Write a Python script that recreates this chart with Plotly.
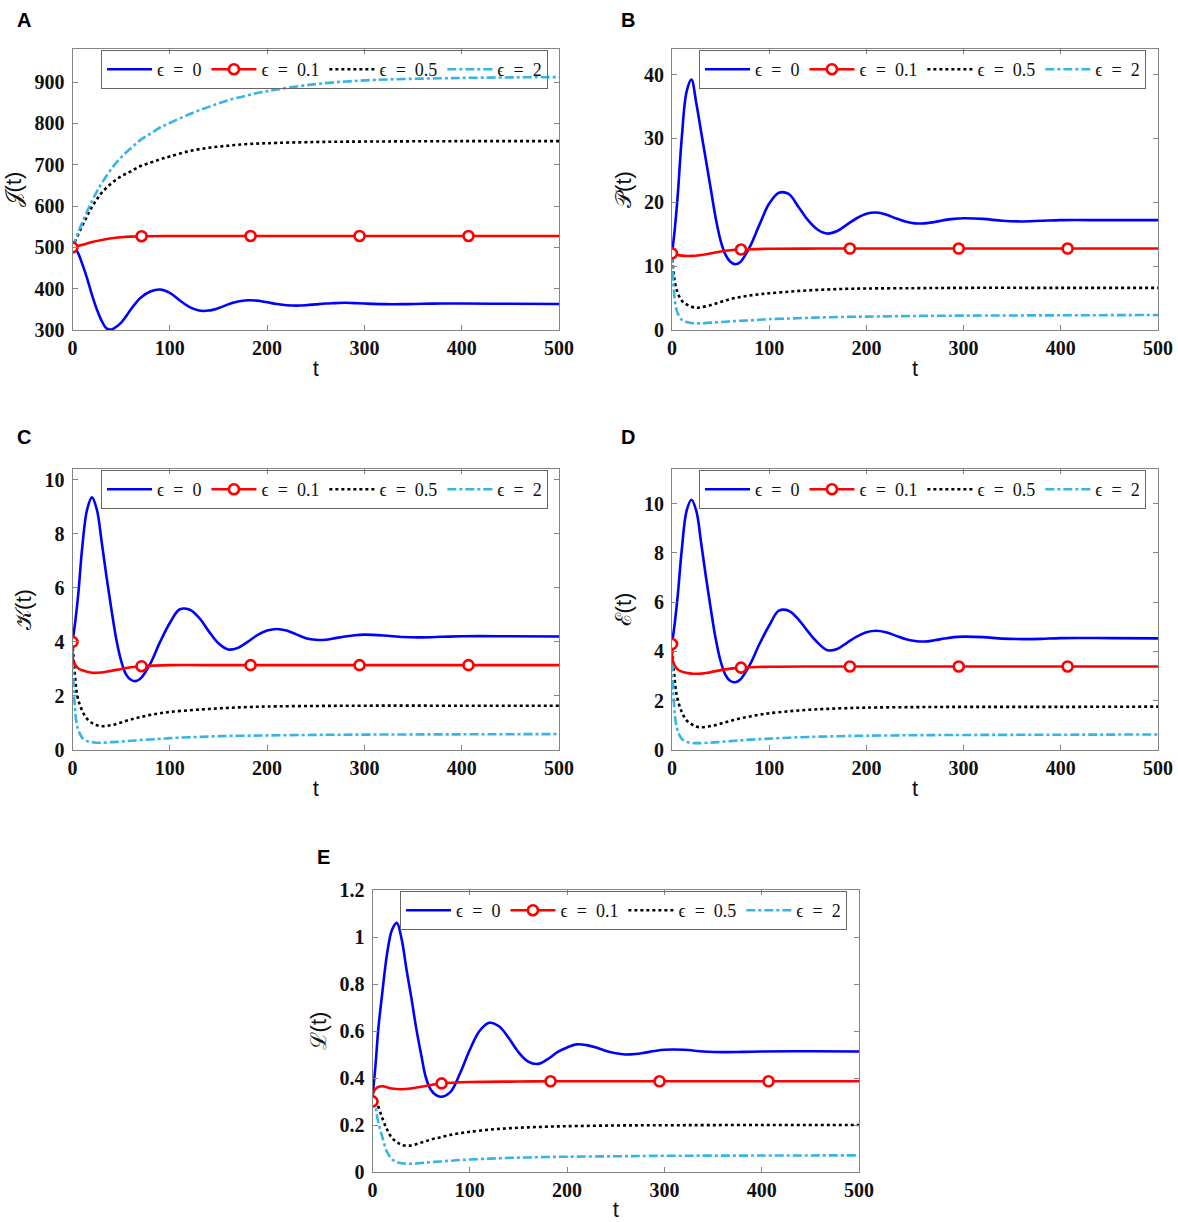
import plotly.graph_objects as go

# time grids
T_OSC = [0, 3, 6, 10, 15, 20, 25, 30, 35, 40, 45, 50, 55, 60, 65, 70,
         80, 90, 100, 110, 120, 130, 140, 150, 160, 170, 180, 190, 200, 210,
         220, 230, 240, 250, 260, 270, 280, 290, 300, 320, 340, 360, 380, 400,
         450, 500]
T_RED = [0, 1, 5, 10, 20, 30, 40, 50, 60, 71, 100, 150, 183, 250, 295, 350,
         407, 450, 500]
T_SMOOTH = [0, 2, 5, 10, 15, 20, 25, 30, 40, 50, 60, 70, 80, 90, 100, 120,
            140, 160, 180, 200, 250, 300, 400, 500]
RED_MARK_T = [0, 71, 183, 295, 407]
X_TICKS = [0, 100, 200, 300, 400, 500]

EPS_LABELS = ["ϵ\u2002=\u20020", "ϵ\u2002=\u20020.1", "ϵ\u2002=\u20020.5",
              "ϵ\u2002=\u20022"]

# panel A : J(t)
J_EPS0 = [500, 496, 485, 460, 425, 385, 350, 322, 304, 301, 308, 318, 333, 350,
          365, 378, 393, 398, 390, 372, 356, 347, 347, 353, 362, 369, 372, 371,
          367, 363, 360, 359, 360, 362, 364, 365, 366, 365, 364, 362.5, 362.5,
          363.5, 364, 364, 363.5, 363]
J_EPS01 = [500, 500.6, 503, 506, 513, 518, 522, 524.5, 526, 527, 527.5, 527.5,
           527.5, 527.5, 527.5, 527.5, 527.5, 527.5, 527.5]
J_EPS05 = [500, 511, 527, 552, 576, 598, 616, 632, 655, 672, 684, 697, 705, 713,
           720, 733, 741, 746, 750, 752, 755, 756, 757, 757]
J_EPS2 = [500, 513, 531, 560, 587, 612, 635, 655, 690, 718, 740, 760, 775, 790,
          801, 822, 840, 856, 868, 878, 895, 904, 910, 912]

# panel B : P(t)
P_EPS0 = [12, 16, 21.3, 30, 37.3, 39.2, 35.5, 31, 26.5, 22, 17.5, 14, 11.8, 10.7,
          10.3, 10.6, 13, 16.5, 19.8, 21.5, 21.3, 19.3, 17.2, 15.7, 15.1, 15.5,
          16.5, 17.5, 18.2, 18.4, 18.1, 17.5, 17.0, 16.7, 16.7, 16.9, 17.2, 17.4,
          17.5, 17.4, 17.1, 17.0, 17.1, 17.2, 17.2, 17.2]
P_EPS01 = [12, 11.95, 11.8, 11.65, 11.6, 11.75, 12.0, 12.3, 12.5, 12.6, 12.72,
           12.75, 12.75, 12.75, 12.75, 12.75, 12.75, 12.75, 12.75]
P_EPS05 = [12, 8.5, 6.2, 4.6, 4.0, 3.65, 3.5, 3.55, 3.9, 4.4, 4.85, 5.15, 5.4, 5.6,
           5.75, 6.0, 6.2, 6.35, 6.45, 6.5, 6.55, 6.6, 6.6, 6.6]
P_EPS2 = [12, 6, 3, 1.6, 1.25, 1.1, 1.05, 1.05, 1.15, 1.25, 1.35, 1.45, 1.5, 1.6,
          1.7, 1.8, 1.9, 2.0, 2.05, 2.1, 2.2, 2.25, 2.3, 2.35]

# panel C : K(t)
K_EPS0 = [4.0, 4.8, 5.8, 7.5, 8.9, 9.35, 8.9, 7.7, 6.4, 5.2, 4.1, 3.3, 2.8, 2.6,
          2.55, 2.65, 3.2, 4.0, 4.7, 5.2, 5.2, 4.9, 4.4, 3.95, 3.72, 3.78, 4.0,
          4.25, 4.42, 4.48, 4.42, 4.28, 4.14, 4.08, 4.08, 4.14, 4.2, 4.25, 4.27,
          4.24, 4.18, 4.17, 4.19, 4.21, 4.21, 4.2]
K_EPS01 = [4.0, 3.3, 3.05, 2.95, 2.86, 2.87, 2.93, 3.0, 3.06, 3.1, 3.14, 3.14,
           3.14, 3.14, 3.14, 3.14, 3.14, 3.14, 3.14]
K_EPS05 = [4.0, 3.0, 2.0, 1.45, 1.15, 1.0, 0.92, 0.88, 0.92, 1.02, 1.13, 1.22,
           1.3, 1.36, 1.41, 1.47, 1.52, 1.56, 1.59, 1.61, 1.63, 1.64, 1.64, 1.64]
K_EPS2 = [4.0, 1.8, 0.85, 0.45, 0.33, 0.29, 0.27, 0.27, 0.29, 0.31, 0.34, 0.37,
          0.39, 0.41, 0.44, 0.47, 0.5, 0.52, 0.53, 0.54, 0.56, 0.57, 0.58, 0.59]

# panel D : E(t)
E_EPS0 = [4.3, 5.2, 6.3, 8.1, 9.7, 10.15, 9.7, 8.4, 7.0, 5.7, 4.5, 3.6, 3.05, 2.8,
          2.75, 2.85, 3.45, 4.3, 5.05, 5.65, 5.65, 5.3, 4.8, 4.35, 4.05, 4.1,
          4.35, 4.6, 4.78, 4.84, 4.78, 4.64, 4.5, 4.42, 4.4, 4.45, 4.52, 4.58,
          4.6, 4.58, 4.52, 4.5, 4.51, 4.54, 4.54, 4.53]
E_EPS01 = [4.3, 3.6, 3.3, 3.18, 3.1, 3.1, 3.16, 3.24, 3.3, 3.34, 3.38, 3.39,
           3.39, 3.39, 3.39, 3.39, 3.39, 3.39, 3.39]
E_EPS05 = [4.3, 3.2, 2.2, 1.55, 1.2, 1.05, 0.95, 0.92, 0.97, 1.07, 1.18, 1.28,
           1.36, 1.43, 1.49, 1.57, 1.63, 1.67, 1.7, 1.72, 1.74, 1.75, 1.75, 1.76]
E_EPS2 = [4.3, 1.9, 0.9, 0.45, 0.33, 0.29, 0.28, 0.28, 0.3, 0.33, 0.36, 0.39,
          0.42, 0.44, 0.46, 0.5, 0.53, 0.55, 0.57, 0.58, 0.6, 0.61, 0.62, 0.63]

# panel E : L(t)
L_EPS0 = [0.32, 0.45, 0.61, 0.76, 0.93, 1.03, 1.06, 0.99, 0.86, 0.74, 0.61, 0.5,
          0.4, 0.35, 0.328, 0.32, 0.34, 0.42, 0.52, 0.6, 0.635, 0.62, 0.57,
          0.51, 0.47, 0.46, 0.48, 0.51, 0.53, 0.543, 0.54, 0.53, 0.515, 0.505,
          0.5, 0.502, 0.508, 0.515, 0.52, 0.52, 0.513, 0.51, 0.511, 0.513,
          0.514, 0.513]
L_EPS01 = [0.3, 0.34, 0.36, 0.365, 0.355, 0.352, 0.356, 0.363, 0.37, 0.377,
           0.383, 0.385, 0.386, 0.386, 0.386, 0.386, 0.386, 0.386, 0.386]
L_EPS05 = [0.32, 0.32, 0.29, 0.23, 0.18, 0.145, 0.128, 0.115, 0.113, 0.125,
           0.138, 0.148, 0.158, 0.165, 0.171, 0.18, 0.186, 0.19, 0.193, 0.195,
           0.198, 0.199, 0.2, 0.2]
L_EPS2 = [0.32, 0.3, 0.23, 0.15, 0.085, 0.055, 0.042, 0.037, 0.035, 0.038,
          0.042, 0.045, 0.048, 0.051, 0.053, 0.057, 0.06, 0.062, 0.064, 0.065,
          0.067, 0.069, 0.07, 0.071]

W, H = 1178, 1222
BLUE, RED, BLACK, CYAN = "#0000ff", "#ff0000", "#000000", "#36b4e6"
FRAME = "#858585"
TICKFONT = dict(family="Liberation Serif, Times New Roman, serif", size=20,
                color="#111111", weight="bold")
LEGFONT = dict(family="Liberation Serif, DejaVu Serif, serif", size=18,
               color="#111111")
TITLEFONT = dict(family="Liberation Sans, Arial, sans-serif", size=22,
                 color="#111111")


def px_x(p):
    return p / W


def px_y(p):
    return 1 - p / H


# panel boxes in pixels: (left, right, top, bottom)
panels = [
    dict(key="A", ylab="𝒥(t)", box=(72.5, 559, 49, 330), yr=[300, 980],
         yt=[300, 400, 500, 600, 700, 800, 900], lab=(15, 20), legr=548,
         data=(J_EPS0, J_EPS01, J_EPS05, J_EPS2)),
    dict(key="B", ylab="𝒫(t)", box=(672, 1158, 49, 330), yr=[0, 44],
         yt=[0, 10, 20, 30, 40], lab=(619, 20), legr=1146,
         data=(P_EPS0, P_EPS01, P_EPS05, P_EPS2)),
    dict(key="C", ylab="𝒦(t)", box=(72.5, 559, 469, 750), yr=[0, 10.4],
         yt=[0, 2, 4, 6, 8, 10], lab=(15, 437), legr=548,
         data=(K_EPS0, K_EPS01, K_EPS05, K_EPS2)),
    dict(key="D", ylab="ℰ(t)", box=(672, 1158, 469, 750), yr=[0, 11.4],
         yt=[0, 2, 4, 6, 8, 10], lab=(619, 437), legr=1146,
         data=(E_EPS0, E_EPS01, E_EPS05, E_EPS2)),
    dict(key="E", ylab="ℒ(t)", box=(372.5, 859, 890, 1172), yr=[0, 1.2],
         yt=[0, 0.2, 0.4, 0.6, 0.8, 1, 1.2], lab=(315, 857), legr=847,
         data=(L_EPS0, L_EPS01, L_EPS05, L_EPS2)),
]

fig = go.Figure()
layout = dict(width=W, height=H, margin=dict(l=0, r=0, t=0, b=0, autoexpand=False),
              paper_bgcolor="white", plot_bgcolor="white", annotations=[])

for i, p in enumerate(panels):
    n = i + 1
    sfx = "" if n == 1 else str(n)
    xa, ya = "x" + sfx, "y" + sfx
    leg = "legend" + sfx
    l, r, t, b = p["box"]
    blue, red, black, cyan = p["data"]

    common = dict(xaxis=xa, yaxis=ya, legend=leg)
    fig.add_trace(go.Scatter(x=T_OSC, y=blue, mode="lines", name=EPS_LABELS[0],
                             line=dict(color=BLUE, width=2.6, shape="spline"),
                             **common))
    # legend entry for the marked red curve
    fig.add_trace(go.Scatter(x=[None], y=[None], mode="lines+markers",
                             name=EPS_LABELS[1],
                             line=dict(color=RED, width=2.6),
                             marker=dict(symbol="circle", size=10, color="white",
                                         line=dict(color=RED, width=2.6)),
                             **common))
    fig.add_trace(go.Scatter(x=T_SMOOTH, y=black, mode="lines", name=EPS_LABELS[2],
                             line=dict(color=BLACK, width=2.6, dash="dot",
                                       shape="spline"),
                             **common))
    fig.add_trace(go.Scatter(x=T_SMOOTH, y=cyan, mode="lines", name=EPS_LABELS[3],
                             line=dict(color=CYAN, width=2.6, dash="dashdot",
                                       shape="spline"),
                             **common))
    fig.add_trace(go.Scatter(x=T_RED, y=red, mode="lines", showlegend=False,
                             line=dict(color=RED, width=2.6, shape="spline"),
                             **common))
    mark_y = [red[T_RED.index(tm)] for tm in RED_MARK_T]
    fig.add_trace(go.Scatter(x=RED_MARK_T, y=mark_y, mode="markers",
                             showlegend=False,
                             marker=dict(symbol="circle", size=10, color="white",
                                         line=dict(color=RED, width=2.6)),
                             **common))

    axis_common = dict(showline=True, linecolor=FRAME, linewidth=1, mirror="ticks",
                       ticks="inside", ticklen=5, tickcolor=FRAME, tickwidth=1,
                       tickfont=TICKFONT, showgrid=False, zeroline=False,
                       automargin=False)
    layout["xaxis" + sfx] = dict(domain=[px_x(l), px_x(r)], anchor=ya,
                                 range=[0, 500], tickvals=X_TICKS,
                                 ticklabelstandoff=0,
                                 title=dict(text="t", font=TITLEFONT, standoff=2),
                                 **axis_common)
    layout["yaxis" + sfx] = dict(domain=[px_y(b), px_y(t)], anchor=xa,
                                 range=p["yr"], tickvals=p["yt"],
                                 ticklabelstandoff=3,
                                 title=dict(text=p["ylab"], font=TITLEFONT,
                                            standoff=6),
                                 **axis_common)
    layout[leg] = dict(orientation="h", x=px_x(p["legr"]), xanchor="right",
                       y=px_y(t + 1), yanchor="top",
                       bgcolor="rgba(255,255,255,0)",
                       bordercolor="#666666", borderwidth=1, font=LEGFONT,
                       itemwidth=45, tracegroupgap=0)
    layout["annotations"].append(dict(
        text="<b>%s</b>" % p["key"], x=px_x(p["lab"][0]), y=px_y(p["lab"][1]),
        xref="paper", yref="paper", xanchor="left", yanchor="middle",
        showarrow=False,
        font=dict(family="Liberation Sans, Arial, sans-serif", size=20,
                  color="black")))

fig.update_layout(**layout)
# drop the page's default body margin so the figure sits at the window corner
fig.write_html("out.html", config={"displayModeBar": False},
               post_script="document.body.style.margin='0';")
